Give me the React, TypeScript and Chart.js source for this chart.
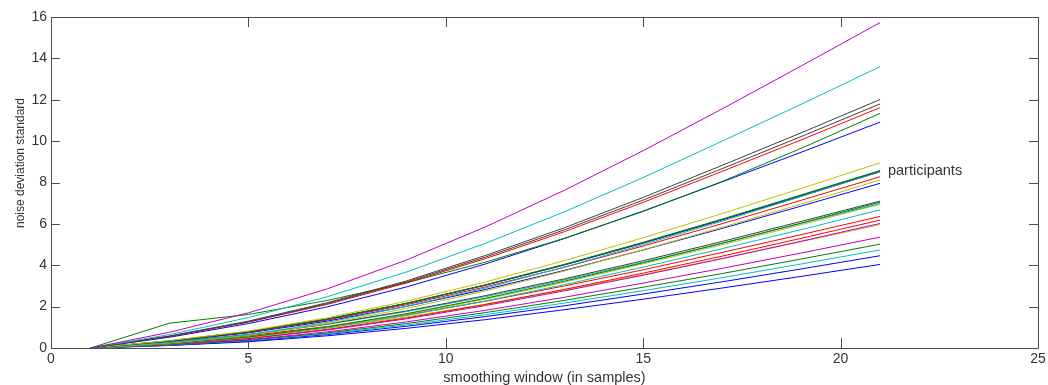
import React, { useEffect, useRef } from "react";
import { Chart, registerables } from "chart.js";

Chart.register(...registerables);

// smoothing window sizes (x values)
const windows = [1, 3, 5, 7, 9, 11, 13, 15, 17, 19, 21];
const xTicks = [0, 5, 10, 15, 20, 25];
const yTicks = [0, 2, 4, 6, 8, 10, 12, 14, 16];

const xTitle = "smoothing window (in samples)";
const yTitle = "noise deviation standard";
const noteText = "participants";

// MATLAB-like color codes
const C = {
  b: "#0000ff",
  g: "#008000",
  r: "#ff0000",
  c: "#00bfbf",
  m: "#bf00bf",
  y: "#bfbf00",
  k: "#404040",
};

// per-participant series (noise deviation standard per window)
const p01 = [0, 0.76, 1.7, 2.86, 4.25, 5.85, 7.62, 9.54, 11.56, 13.63, 15.73];
const p02 = [0, 0.65, 1.47, 2.48, 3.67, 5.06, 6.58, 8.24, 10.0, 11.78, 13.6];
const p03 = [0, 0.58, 1.3, 2.19, 3.24, 4.47, 5.81, 7.28, 8.83, 10.4, 12.01];
const p04 = [0, 0.57, 1.27, 2.15, 3.19, 4.39, 5.71, 7.15, 8.67, 10.22, 11.8];
const p05 = [0, 0.56, 1.25, 2.11, 3.14, 4.32, 5.62, 7.04, 8.54, 10.06, 11.62];
const p06 = [0, 1.2, 1.62, 2.3, 3.15, 4.15, 5.3, 6.6, 8.05, 9.65, 11.34];
const p07 = [0, 0.52, 1.18, 1.99, 2.95, 4.06, 5.29, 6.62, 8.03, 9.46, 10.92];
const p08 = [0, 0.36, 0.82, 1.46, 2.26, 3.19, 4.22, 5.33, 6.5, 7.71, 8.95];
const p09 = [0, 0.34, 0.79, 1.4, 2.16, 3.05, 4.04, 5.11, 6.23, 7.4, 8.58];
const p10 = [0, 0.34, 0.79, 1.4, 2.16, 3.05, 4.03, 5.09, 6.21, 7.38, 8.56];
const p11 = [0, 0.26, 0.64, 1.24, 2.01, 2.9, 3.91, 5.0, 6.13, 7.32, 8.54];
const p12 = [0, 0.34, 0.78, 1.39, 2.15, 3.03, 4.01, 5.07, 6.19, 7.34, 8.52];
const p13 = [0, 0.33, 0.76, 1.35, 2.09, 2.95, 3.9, 4.93, 6.01, 7.14, 8.28];
const p14 = [0, 0.24, 0.61, 1.18, 1.91, 2.76, 3.72, 4.75, 5.83, 6.96, 8.12];
const p15 = [0, 0.32, 0.73, 1.3, 2.01, 2.83, 3.75, 4.74, 5.78, 6.86, 7.96];
const p16 = [0, 0.28, 0.65, 1.16, 1.79, 2.53, 3.34, 4.22, 5.15, 6.12, 7.1];
const p17 = [0, 0.21, 0.53, 1.02, 1.66, 2.4, 3.23, 4.12, 5.06, 6.04, 7.05];
const p18 = [0, 0.28, 0.64, 1.14, 1.76, 2.48, 3.29, 4.15, 5.07, 6.02, 6.98];
const p19 = [0, 0.21, 0.52, 1.01, 1.63, 2.36, 3.18, 4.07, 4.99, 5.96, 6.95];
const p20 = [0, 0.2, 0.5, 0.97, 1.57, 2.27, 3.06, 3.91, 4.8, 5.72, 6.68];
const p21 = [0, 0.25, 0.59, 1.04, 1.6, 2.26, 3.0, 3.78, 4.62, 5.48, 6.36];
const p22 = [0, 0.19, 0.46, 0.9, 1.45, 2.1, 2.83, 3.62, 4.44, 5.3, 6.18];
const p23 = [0, 0.18, 0.45, 0.87, 1.41, 2.05, 2.76, 3.52, 4.32, 5.16, 6.02];
const p24 = [0, 0.24, 0.55, 0.97, 1.5, 2.12, 2.81, 3.55, 4.33, 5.14, 5.96];
const p25 = [0, 0.16, 0.4, 0.78, 1.26, 1.82, 2.45, 3.14, 3.85, 4.59, 5.36];
const p26 = [0, 0.15, 0.38, 0.73, 1.18, 1.71, 2.3, 2.94, 3.6, 4.3, 5.02];
const p27 = [0, 0.14, 0.36, 0.69, 1.11, 1.61, 2.17, 2.77, 3.4, 4.06, 4.74];
const p28 = [0, 0.13, 0.33, 0.65, 1.05, 1.52, 2.04, 2.61, 3.2, 3.82, 4.46];
const p29 = [0, 0.12, 0.3, 0.59, 0.95, 1.37, 1.85, 2.36, 2.9, 3.46, 4.04];

const series = [
  p01, p02, p03, p04, p05, p06, p07, p08, p09, p10, p11, p12, p13, p14, p15,
  p16, p17, p18, p19, p20, p21, p22, p23, p24, p25, p26, p27, p28, p29,
];
const seriesColors = [
  C.m, C.c, C.k, C.k, C.r, C.g, C.b, C.y, C.g, C.k, C.c, C.b, C.r, C.y, C.b,
  C.k, C.g, C.c, C.y, C.c, C.r, C.r, C.m, C.y, C.m, C.g, C.c, C.b, C.b,
];

const FONT = '"Liberation Sans", Arial, sans-serif';

const matlabAxes = {
  id: "matlabAxes",
  afterDraw(chart: any) {
    const { ctx, chartArea } = chart;
    const xs = chart.scales.x;
    const ys = chart.scales.y;
    const { left, right, top, bottom } = chartArea;
    ctx.save();
    ctx.strokeStyle = "#4d4d4d";
    ctx.lineWidth = 1;
    // box
    ctx.beginPath();
    ctx.rect(Math.round(left) + 0.5, Math.round(top) + 0.5, Math.round(right - left), Math.round(bottom - top));
    ctx.stroke();
    // ticks inward
    ctx.beginPath();
    xTicks.forEach((v) => {
      const px = Math.round(xs.getPixelForValue(v)) + 0.5;
      ctx.moveTo(px, bottom);
      ctx.lineTo(px, bottom - 10);
      ctx.moveTo(px, top);
      ctx.lineTo(px, top + 10);
    });
    yTicks.forEach((v) => {
      const py = Math.round(ys.getPixelForValue(v)) + 0.5;
      ctx.moveTo(left, py);
      ctx.lineTo(left + 9, py);
      ctx.moveTo(right, py);
      ctx.lineTo(right - 9, py);
    });
    ctx.stroke();
    // tick labels
    ctx.fillStyle = "#333333";
    ctx.font = `14px ${FONT}`;
    ctx.textAlign = "center";
    ctx.textBaseline = "middle";
    xTicks.forEach((v) => {
      ctx.fillText(String(v), xs.getPixelForValue(v), bottom + 11);
    });
    ctx.textAlign = "right";
    yTicks.forEach((v) => {
      ctx.fillText(String(v), left - 4, ys.getPixelForValue(v));
    });
    // axis titles
    ctx.textAlign = "center";
    ctx.textBaseline = "alphabetic";
    ctx.font = `14.5px ${FONT}`;
    ctx.fillText(xTitle, (left + right) / 2, bottom + 34);
    ctx.save();
    ctx.translate(24, 163);
    ctx.rotate(-Math.PI / 2);
    ctx.font = `12px ${FONT}`;
    ctx.fillText(yTitle, 0, 0);
    ctx.restore();
    // annotation
    ctx.textAlign = "left";
    ctx.textBaseline = "middle";
    ctx.font = `14.5px ${FONT}`;
    ctx.fillText(noteText, xs.getPixelForValue(21.2), ys.getPixelForValue(8.55));
    ctx.restore();
  },
};

export default function App() {
  const ref = useRef<HTMLCanvasElement | null>(null);
  useEffect(() => {
    document.body.style.margin = "0";
    const canvas = ref.current;
    if (!canvas) return;
    const chart = new Chart(canvas, {
      type: "line",
      data: {
        datasets: series.map((s, i) => ({
          label: `p${i + 1}`,
          data: s.map((v, j) => ({ x: windows[j], y: v })),
          borderColor: seriesColors[i],
          backgroundColor: seriesColors[i],
          borderWidth: 1,
          pointRadius: 0,
          fill: false,
          tension: 0,
        })),
      },
      options: {
        animation: false,
        responsive: false,
        maintainAspectRatio: false,
        layout: { padding: { left: 51, right: 10, top: 17, bottom: 37 } },
        plugins: { legend: { display: false }, tooltip: { enabled: false } },
        scales: {
          x: { type: "linear", min: 0, max: 25, display: false },
          y: { type: "linear", min: 0, max: 16, display: false },
        },
      },
      plugins: [matlabAxes],
    });
    return () => chart.destroy();
  }, []);
  return (
    <div style={{ width: 1048, height: 385, background: "#fff" }}>
      <canvas ref={ref} width={1048} height={385} />
    </div>
  );
}
